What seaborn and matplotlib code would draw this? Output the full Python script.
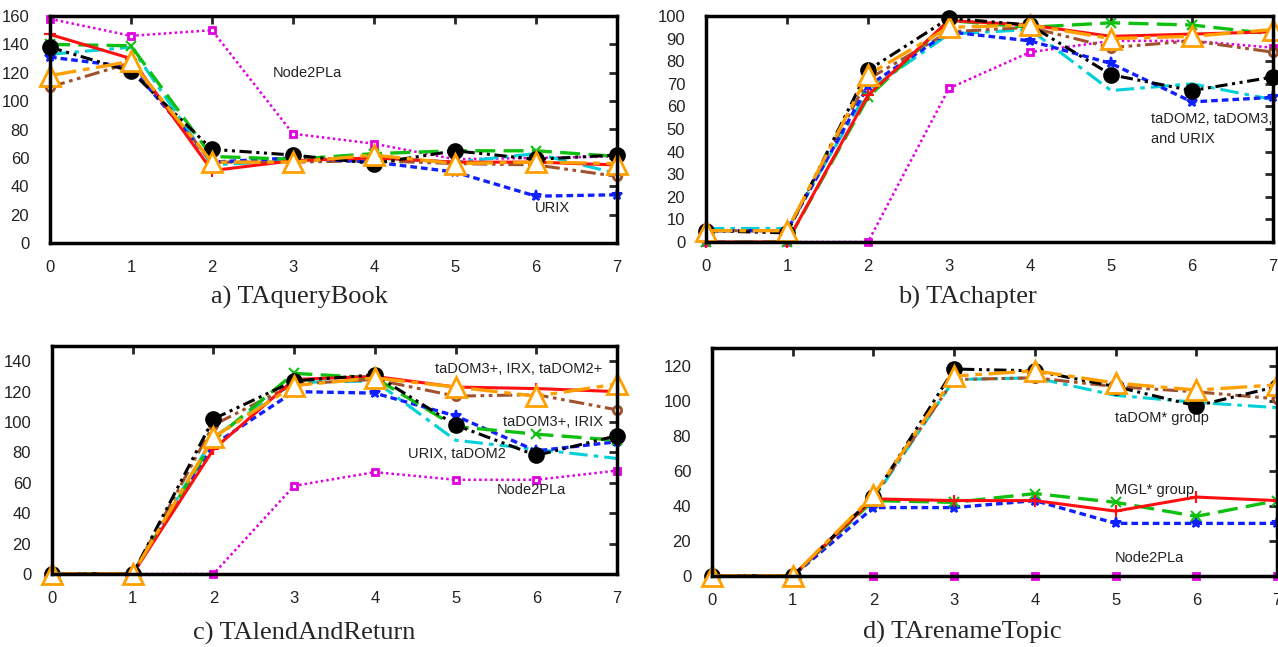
import numpy as np
import pandas as pd
import matplotlib
matplotlib.use("Agg")
import matplotlib.pyplot as plt
import matplotlib.transforms as mtransforms
import seaborn as sns

sns.set_style("white")
plt.rcParams['font.family'] = ['Liberation Sans', 'DejaVu Sans']

x_steps = [0, 1, 2, 3, 4, 5, 6, 7]

# panel a) TAqueryBook
a_red = [147, 130, 51, 58, 60, 57, 57, 55]
a_green = [140, 139, 61, 59, 63, 65, 65, 61]
a_blue = [131, 124, 57, 60, 57, 50, 33, 34]
a_magenta = [158, 146, 150, 77, 70, 59, 60, 61]
a_black = [138, 121, 66, 62, 56, 65, 59, 62]
a_cyan = [133, 138, 55, 58, 60, 57, 63, 49]
a_brown = [110, 127, 57, 57, 58, 56, 55, 47]
a_orange = [118, 128, 57, 57, 62, 56, 57, 56]

# panel b) TAchapter
b_red = [0, 0, 65, 98, 96, 91, 92, 93]
b_green = [0, 0, 64, 98, 95, 97, 96, 92]
b_blue = [5, 5, 69, 93, 89, 79, 62, 64]
b_magenta = [0, 0, 0, 68, 84, 89, 89, 86]
b_black = [5, 4, 76, 99, 96, 74, 67, 73]
b_cyan = [6, 6, 67, 92, 94, 67, 70, 63]
b_brown = [5, 5, 72, 93, 95, 86, 89, 84]
b_orange = [5, 5, 74, 95, 96, 90, 91, 94]

# panel c) TAlendAndReturn
c_red = [0, 0, 82, 128, 130, 123, 122, 120]
c_green = [0, 0, 88, 132, 129, 97, 92, 88]
c_blue = [0, 0, 85, 120, 119, 104, 81, 87]
c_magenta = [0, 0, 0, 58, 67, 62, 62, 68]
c_black = [0, 0, 102, 127, 131, 98, 78, 91]
c_cyan = [0, 0, 90, 126, 127, 88, 82, 76]
c_brown = [0, 0, 98, 125, 128, 117, 118, 108]
c_orange = [0, 0, 90, 124, 129, 123, 117, 125]

# panel d) TArenameTopic
d_red = [0, 0, 44, 43, 43, 37, 45, 43]
d_green = [0, 0, 43, 42, 47, 42, 34, 43]
d_blue = [0, 0, 39, 39, 43, 30, 30, 30]
d_magenta = [0, 0, 0, 0, 0, 0, 0, 0]
d_black = [0, 0, 45, 118, 117, 108, 97, 108]
d_cyan = [0, 0, 44, 112, 113, 103, 99, 96]
d_brown = [0, 0, 45, 112, 113, 108, 105, 101]
d_orange = [0, 0, 46, 114, 117, 110, 106, 109]

panel_titles = ["a) TAqueryBook", "b) TAchapter", "c) TAlendAndReturn", "d) TArenameTopic"]
title_x = [3.08, 3.23, 3.12, 3.1]
panel_ylims = [(0, 160), (0, 100), (0, 150), (0, 130)]
panel_yticks = [range(0, 161, 20), range(0, 101, 10), range(0, 141, 20), range(0, 121, 20)]

# line styles: colour, dashes, marker, marker size, open marker, width
styles = {
    'magenta': ('#e000e0', (0, (1, 1.2)), 's', 5, True, 1.8),
    'cyan': ('#00d0d8', (0, (6, 2, 1.5, 2)), None, 0, False, 2.2),
    'brown': ('#a0522d', (0, (5, 1.5, 1.2, 1.5, 1.2, 1.5)), 'o', 6, True, 2.2),
    'blue': ('#1020ff', (0, (2, 1.2)), '*', 8, False, 2.4),
    'green': ('#10c010', (0, (6, 2.5)), 'x', 7, False, 2.4),
    'red': ('#ff1010', '-', '+', 9, False, 2.2),
    'black': ('#000000', (0, (4, 1.5, 1, 1.5, 1, 1.5)), 'o', 10.5, False, 2.2),
    'orange': ('#ffa000', (0, (8, 2, 2, 2)), '^', 14, True, 2.4),
}

panel_data = [
    dict(red=a_red, green=a_green, blue=a_blue, magenta=a_magenta, black=a_black,
         cyan=a_cyan, brown=a_brown, orange=a_orange),
    dict(red=b_red, green=b_green, blue=b_blue, magenta=b_magenta, black=b_black,
         cyan=b_cyan, brown=b_brown, orange=b_orange),
    dict(red=c_red, green=c_green, blue=c_blue, magenta=c_magenta, black=c_black,
         cyan=c_cyan, brown=c_brown, orange=c_orange),
    dict(red=d_red, green=d_green, blue=d_blue, magenta=d_magenta, black=d_black,
         cyan=d_cyan, brown=d_brown, orange=d_orange),
]

# text labels inside the panels (x, y, text)
notes = [
    [(2.75, 120, "Node2PLa"), (5.98, 25, "URIX")],
    [(5.49, 50, "taDOM2, taDOM3,\nand URIX")],
    [(4.75, 135, "taDOM3+, IRX, taDOM2+"), (5.59, 100, "taDOM3+, IRIX"),
     (4.41, 79, "URIX, taDOM2"), (5.51, 55, "Node2PLa")],
    [(4.99, 90, "taDOM* group"), (4.99, 49, "MGL* group"), (4.99, 10, "Node2PLa")],
]

# axes boxes in pixels: left, right, top, bottom, title gap below axes
W, H = 1278, 647
boxes = [(50, 617, 16, 243, 54), (706, 1273, 16, 242, 55),
         (52, 617, 346, 574, 59), (712, 1277, 348, 576, 56)]

fig = plt.figure(figsize=(W / 100, H / 100), dpi=100)

for i in range(4):
    l, r, t, b, gap = boxes[i]
    ax = fig.add_axes([l / W, 1 - b / H, (r - l) / W, (b - t) / H])
    for name in ['magenta', 'cyan', 'brown', 'blue', 'green', 'red', 'black', 'orange']:
        col, ls, mk, ms, hollow, lw = styles[name]
        df = pd.DataFrame({'x': x_steps, 'y': panel_data[i][name]})
        sns.lineplot(data=df, x='x', y='y', ax=ax, color=col, linestyle=ls, lw=lw,
                     marker=mk, markersize=ms, markeredgewidth=2 if hollow else 1.5,
                     markerfacecolor='white' if hollow else col, markeredgecolor=col,
                     clip_on=False, zorder=3)
    ax.set_xlim(0, 7)
    ax.set_ylim(*panel_ylims[i])
    ax.set_xticks(x_steps)
    ax.set_yticks(list(panel_yticks[i]))
    ax.set_xlabel("")
    ax.set_ylabel("")
    ax.tick_params(direction='in', length=6, width=2, top=True, right=True,
                   labelsize=12, labelcolor='#222222')
    ax.tick_params(axis='x', pad=12)
    ax.tick_params(axis='y', pad=15)
    for sp in ax.spines.values():
        sp.set_linewidth(2.5)
        sp.set_color('black')
        sp.set_zorder(5)
    for nx, ny, txt in notes[i]:
        ax.text(nx, ny, txt, fontsize=10.5, ha='left', va='center', color='#222222',
                linespacing=1.5)
    trans = mtransforms.blended_transform_factory(ax.transData, ax.transAxes)
    ax.text(title_x[i], -gap / (b - t), panel_titles[i], transform=trans,
            ha='center', va='center', fontsize=19, family=['Liberation Serif', 'DejaVu Serif'])

fig.savefig("out.png", dpi=100)
